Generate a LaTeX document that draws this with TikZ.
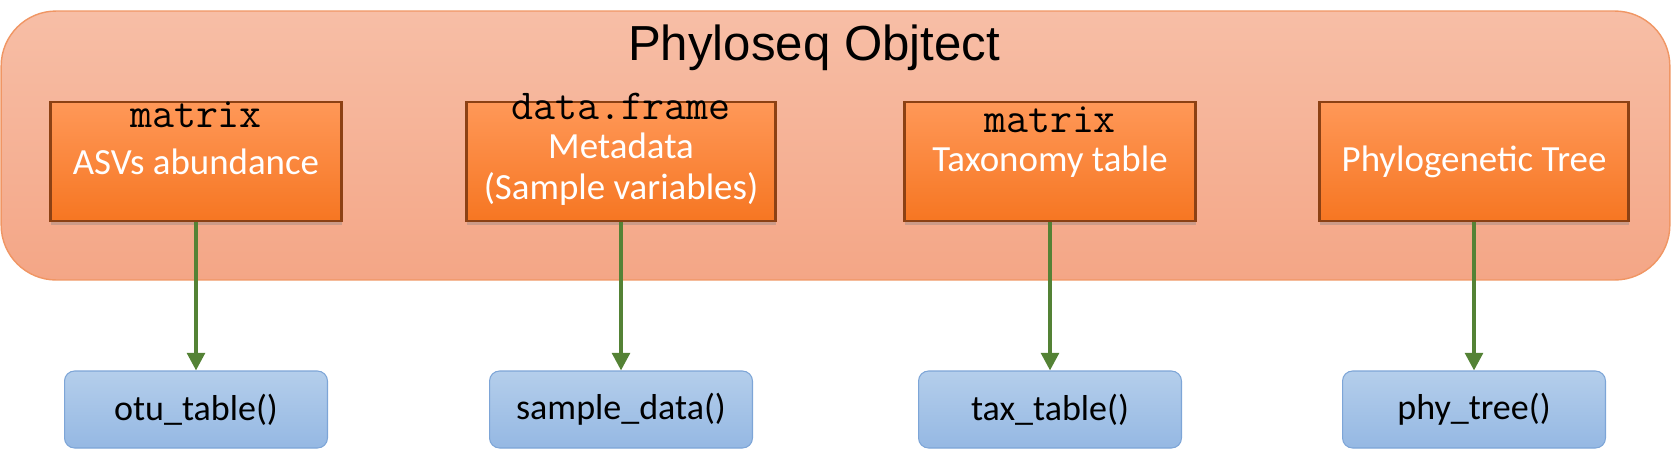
\documentclass[tikz,border=0pt]{standalone}
\usepackage{fontspec}
\setmainfont{Carlito}
\newfontfamily\titlefont{Liberation Sans}
\usetikzlibrary{shapes,arrows.meta,positioning,shadows}
\definecolor{objtop}{RGB}{247,190,166}
\definecolor{objbottom}{RGB}{244,166,134}
\definecolor{objedge}{RGB}{240,150,100}
\definecolor{comptop}{RGB}{255,152,88}
\definecolor{compbottom}{RGB}{246,118,34}
\definecolor{compedge}{RGB}{140,65,20}
\definecolor{functop}{RGB}{180,206,235}
\definecolor{funcbottom}{RGB}{149,184,227}
\definecolor{funcedge}{RGB}{125,165,215}
\definecolor{linkgreen}{RGB}{84,130,53}

\begin{document}
\begin{tikzpicture}[x=0.02cm, y=-0.02cm,
  objbox/.style={draw=objedge, line width=0.8pt, rounded corners=1.1cm, top color=objtop, bottom color=objbottom, minimum width=33.38cm, minimum height=5.38cm},
  compbox/.style={draw=compedge, line width=1.2pt, top color=comptop, bottom color=compbottom, minimum height=2.38cm, text=white, align=center, font={\fontsize{21}{23.5}\selectfont}, drop shadow={shadow xshift=0.5pt, shadow yshift=-2pt, opacity=0.35}},
  comptext/.style={text=white, align=center, font={\fontsize{21}{23.5}\selectfont}},
  funcbox/.style={draw=funcedge, line width=0.6pt, rounded corners=0.2cm, top color=functop, bottom color=funcbottom, minimum width=5.26cm, minimum height=1.54cm, font={\fontsize{20.5}{24}\selectfont}},
  typelabel/.style={font={\ttfamily\fontsize{24.3}{26}\selectfont}, inner sep=0pt},
  linkarrow/.style={draw=linkgreen, line width=2.2pt, -{Triangle[width=10pt, length=10pt]}}]

\useasboundingbox (0,0) rectangle (1672,454);

% === Phyloseq container ===
\node[objbox] (obj) at (835.5,145.5) {};
\node[font={\titlefont\fontsize{28}{32}\selectfont}] (title) at (814,48) {Phyloseq Objtect};

% === Components ===
\node[compbox, minimum width=5.82cm] (asv) at (196,161.5) {ASVs abundance};
\node[compbox, minimum width=6.18cm] (meta) at (621,161.5) {};
\node[comptext] (metatext) at (621,169) {Metadata\\(Sample variables)};
\node[compbox, minimum width=5.82cm] (tax) at (1050,161.5) {Taxonomy table};
\node[compbox, minimum width=6.18cm] (tree) at (1474,161.5) {Phylogenetic Tree};

% Data types
\node[typelabel] (asvtype) at (196,115) {matrix};
\node[typelabel] (metatype) at (621,106) {data.frame};
\node[typelabel] (taxtype) at (1050,120) {matrix};

% === Accessor functions ===
\node[funcbox] (otu) at (196,409.5) {otu\_table()};
\node[funcbox] (sample) at (621,409.5) {sample\_data()};
\node[funcbox] (taxfun) at (1050,409.5) {tax\_table()};
\node[funcbox] (phy) at (1474,409.5) {phy\_tree()};

% Links
\draw[linkarrow] (asv) -- (otu);
\draw[linkarrow] (meta) -- (sample);
\draw[linkarrow] (tax) -- (taxfun);
\draw[linkarrow] (tree) -- (phy);

\end{tikzpicture}
\end{document}
